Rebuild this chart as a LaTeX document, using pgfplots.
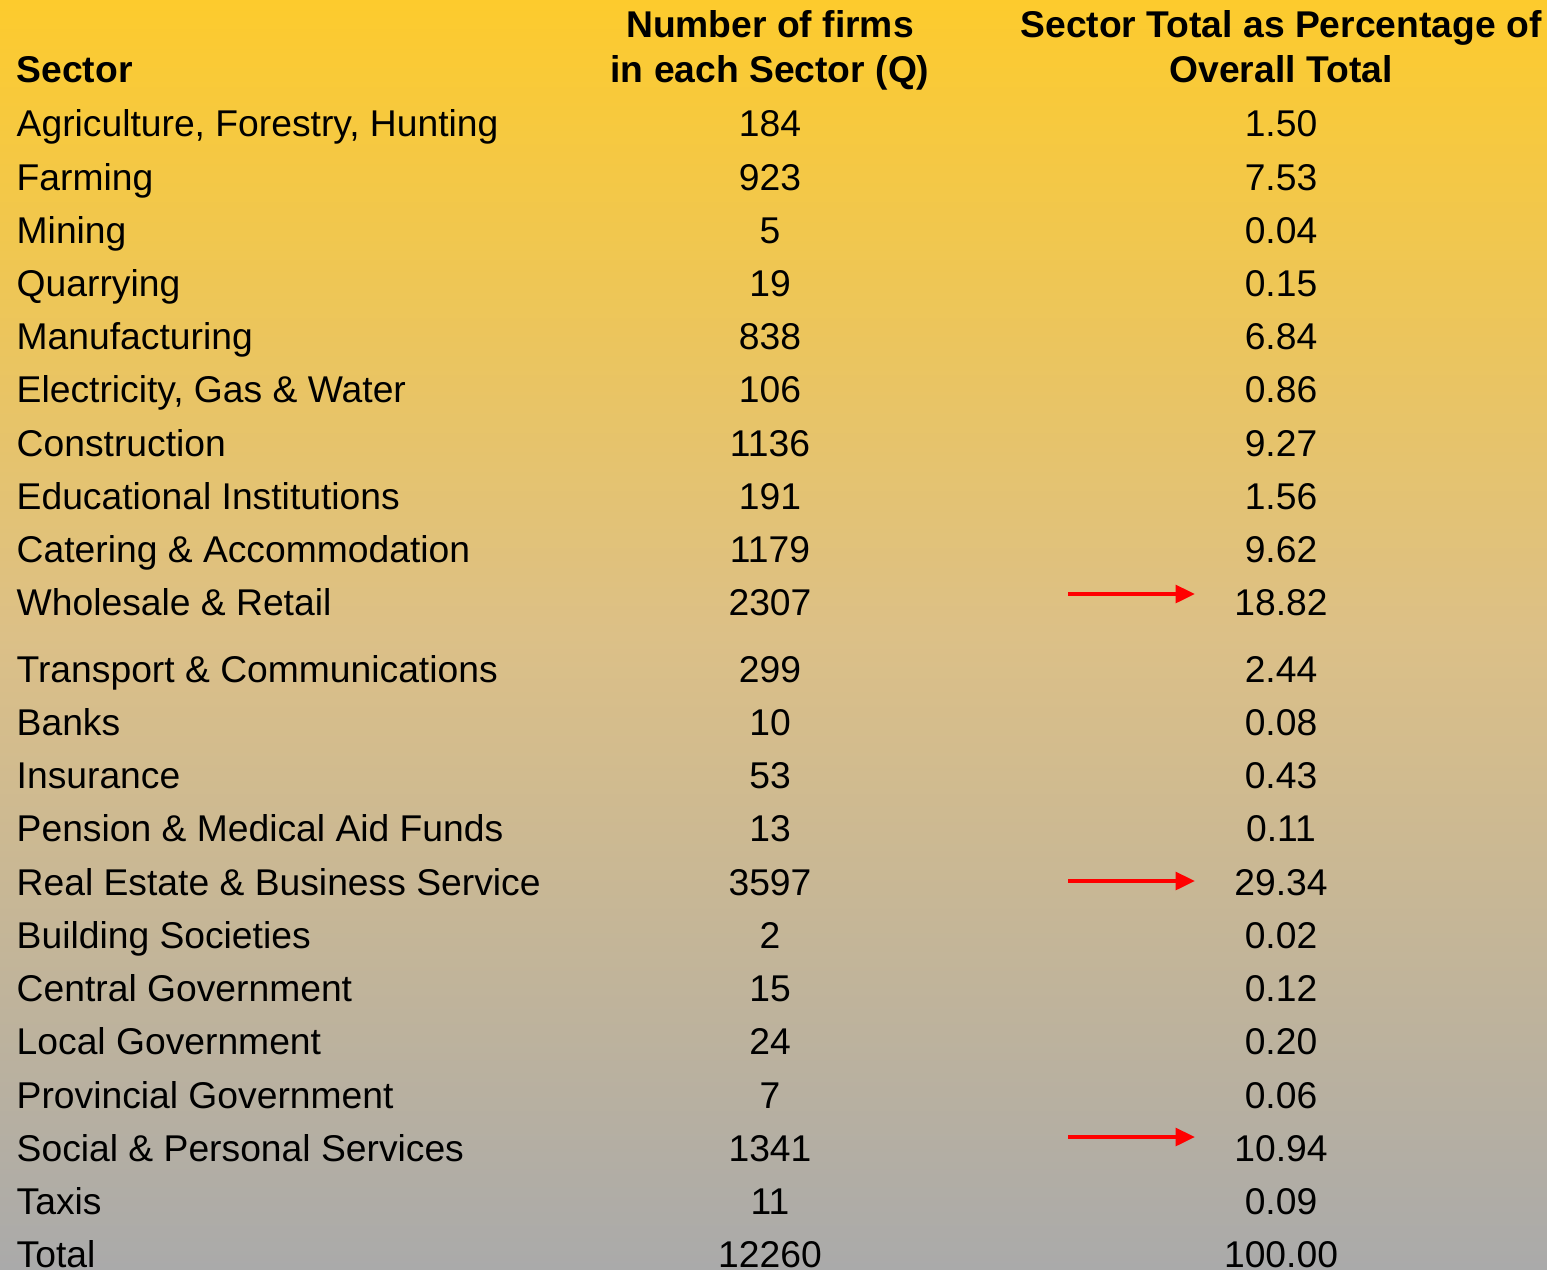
\documentclass[border=0pt]{standalone}
\usepackage{pgfplots}
\pgfplotsset{compat=1.18}
\usepackage{pgfplotstable}
\usepackage{fontspec}
\setmainfont{Liberation Sans}
\usetikzlibrary{arrows.meta}

\definecolor{bgtop}{RGB}{253,203,45}
\definecolor{bgmid}{RGB}{220,192,135}
\definecolor{bgbot}{RGB}{170,170,170}

\pgfplotstableread[col sep=semicolon]{
y;sector;firms;pct
136;Agriculture, Forestry, Hunting;184;1.50
190;Farming;923;7.53
243;Mining;5;0.04
296;Quarrying;19;0.15
349;Manufacturing;838;6.84
402;Electricity, Gas \& Water;106;0.86
456;Construction;1136;9.27
509;Educational Institutions;191;1.56
562;Catering \& Accommodation;1179;9.62
615;Wholesale \& Retail;2307;18.82
682;Transport \& Communications;299;2.44
735;Banks;10;0.08
788;Insurance;53;0.43
841;Pension \& Medical Aid Funds;13;0.11
895;Real Estate \& Business Service;3597;29.34
948;Building Societies;2;0.02
1001;Central Government;15;0.12
1054;Local Government;24;0.20
1108;Provincial Government;7;0.06
1161;Social \& Personal Services;1341;10.94
1214;Taxis;11;0.09
1267;Total;12260;100.00
}\data

\pgfplotstableread[col sep=semicolon]{
x;y;label
770;37;Number of firms
770;82;in each Sector (Q)
1281;37;Sector Total as Percentage of
1281;82;Overall Total
}\heads

\newcommand{\fs}{\fontsize{10.6pt}{12pt}\selectfont}

\begin{document}
\begin{tikzpicture}
\begin{axis}[
  scale only axis, width=15.47cm, height=12.69cm,
  xmin=0, xmax=1547, ymin=0, ymax=1269, y dir=reverse,
  axis lines=none, ticks=none, clip=false,
]
\fill[top color=bgtop, bottom color=bgbot, middle color=bgmid] (axis cs:0,0) rectangle (axis cs:1547,1269);

% sector names
\addplot[draw=none, mark=none, nodes near coords, point meta=explicit symbolic,
  nodes near coords style={anchor=base west, inner sep=0pt, font=\fs, text=black}]
  table[x expr=16, y=y, meta=sector] {\data};
% number of firms
\addplot[draw=none, mark=none, nodes near coords, point meta=explicit symbolic,
  nodes near coords style={anchor=base, inner sep=0pt, font=\fs, text=black}]
  table[x expr=770, y=y, meta=firms] {\data};
% percentages
\addplot[draw=none, mark=none, nodes near coords, point meta=explicit symbolic,
  nodes near coords style={anchor=base, inner sep=0pt, font=\fs, text=black}]
  table[x expr=1281, y=y, meta=pct] {\data};
% headers
\addplot[draw=none, mark=none, nodes near coords, point meta=explicit symbolic,
  nodes near coords style={anchor=base, inner sep=0pt, font=\fs\bfseries, text=black}]
  table[x=x, y=y, meta=label] {\heads};
\addplot[draw=none, mark=none, nodes near coords, point meta=explicit symbolic,
  nodes near coords style={anchor=base west, inner sep=0pt, font=\fs\bfseries, text=black}]
  coordinates {(16,82) [Sector]};

% arrows
\addplot[red, line width=1.1pt, -{Triangle[length=5.5pt,width=5pt]}] coordinates {(1068,594) (1195,594)};
\addplot[red, line width=1.1pt, -{Triangle[length=5.5pt,width=5pt]}] coordinates {(1068,881) (1195,881)};
\addplot[red, line width=1.1pt, -{Triangle[length=5.5pt,width=5pt]}] coordinates {(1068,1137) (1195,1137)};
\end{axis}
\pgfresetboundingbox
\path (0,0) rectangle (15.47cm,12.69cm);
\end{tikzpicture}
\end{document}
